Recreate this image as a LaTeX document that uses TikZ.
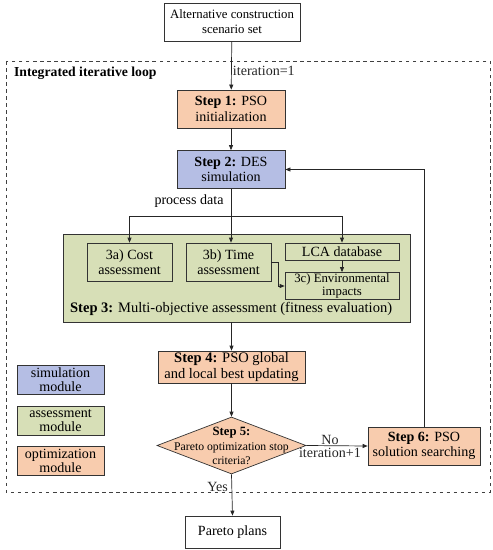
\documentclass[tikz,border=0pt]{standalone}
\usepackage{fontspec}
\setmainfont{Liberation Serif}
\usepackage{tikz}
\usetikzlibrary{positioning,arrows.meta,calc,shapes.geometric}

\definecolor{optor}{RGB}{248,204,174}
\definecolor{simbl}{RGB}{181,190,228}
\definecolor{assgr}{RGB}{215,223,183}

\begin{document}
\begin{tikzpicture}[
    x=0.3mm, y=-0.3mm,
    font=\fontsize{12}{13}\selectfont,
    stepbox/.style={draw, black!80, text=black, align=center, inner sep=1pt,
                    line width=0.6pt},
    legbox/.style={stepbox, minimum width=26.1mm, minimum height=8.7mm, inner sep=0pt,
                   font=\fontsize{12}{12}\selectfont},
    flow/.style={-{Triangle[length=1.5mm,width=1.2mm]}, black!85, line width=0.6pt},
  ]
  \useasboundingbox (0,0) rectangle (492,550);

  % ---------- integrated iterative loop (dashed frame) ----------
  \draw[dashed, black!75, line width=0.6pt] (6,61) rectangle (490,492);
  \node[anchor=west, font=\fontsize{11.7}{13}\selectfont\bfseries] (looplbl) at (10,73)
    {Integrated iterative loop};

  % ---------- input and steps 1, 2 ----------
  \node[stepbox, minimum width=40.8mm, minimum height=11.4mm,
        font=\fontsize{10.9}{12.6}\selectfont] (scen) at (232,22)
    {Alternative construction\\scenario set};
  \node[stepbox, fill=optor, minimum width=32.4mm, minimum height=11.4mm] (s1) at (231,109)
    {\textbf{Step 1:} PSO\\initialization};
  \node[stepbox, fill=simbl, minimum width=32.4mm, minimum height=11.4mm] (s2) at (231,169.5)
    {\textbf{Step 2:} DES\\simulation};

  % ---------- step 3: assessment panel ----------
  \node[stepbox, fill=assgr, minimum width=104.1mm, minimum height=26.4mm] (s3) at (236.5,278) {};
  \node[anchor=west, font=\fontsize{12.4}{13}\selectfont] (s3lbl) at (66,309)
    {\textbf{Step 3:} Multi-objective assessment (fitness evaluation)};
  \node[stepbox, fill=assgr, minimum width=25.5mm, minimum height=11.4mm] (c3a) at (129.5,262)
    {3a) Cost\\assessment};
  \node[stepbox, fill=assgr, minimum width=25.5mm, minimum height=11.4mm] (c3b) at (228.5,262)
    {3b) Time\\assessment};
  \node[stepbox, fill=assgr, minimum width=34.2mm, minimum height=5.1mm, inner sep=0pt] (lca) at (342,251.5)
    {LCA database};
  \node[stepbox, fill=assgr, minimum width=34.2mm, minimum height=8.1mm, inner sep=0pt,
        font=\fontsize{10.9}{11.6}\selectfont] (c3c) at (342,286)
    {3c) Environmental\\impacts};

  % ---------- steps 4, 5, 6 and output ----------
  \node[stepbox, fill=optor, minimum width=44.1mm, minimum height=9.6mm,
        font=\fontsize{12.4}{13}\selectfont] (s4) at (231.5,367)
    {\textbf{Step 4:} PSO global\\and local best updating};
  \node[diamond, draw, black!80, fill=optor, line width=0.6pt, inner sep=0pt,
        minimum width=44.7mm, minimum height=17.1mm] (d5) at (231.5,445.5) {};
  \node[align=center, font=\fontsize{10}{12.4}\selectfont] (d5txt) at (231.5,446)
    {\textbf{\fontsize{10.8}{12.4}\selectfont Step 5:}\\Pareto optimization stop\\criteria?};
  \node[stepbox, fill=optor, minimum width=33.6mm, minimum height=11.4mm] (s6) at (424,446)
    {\textbf{Step 6:} PSO\\solution searching};
  \node[stepbox, minimum width=28.5mm, minimum height=9.6mm] (pareto) at (232.5,532)
    {Pareto plans};

  % ---------- legend ----------
  \node[legbox, fill=simbl] (legsim) at (60.5,379.5) {simulation\\module};
  \node[legbox, fill=assgr] (legass) at (60.5,420.5) {assessment\\module};
  \node[legbox, fill=optor] (legopt) at (60.5,460.5) {optimization\\module};

  % ---------- connectors ----------
  \draw[flow] (scen) -- (s1)
    node[pos=0.62, anchor=west, inner sep=1pt] {iteration=1};
  \draw[flow] (s1) -- (s2);
  \coordinate (split) at (231,216);
  \draw[flow] (s2) -- (s2 |- c3b.north);
  \node[anchor=east, inner sep=1pt] (pdata) at (225,201) {process data};
  \draw[flow] (split) -| (c3a.north);
  \draw[flow] (split) -| (lca.north);
  \draw[flow] (lca) -- (c3c);
  \draw[flow] (c3b.east) -- ++(7,0) |- (c3c.west);
  \draw[flow] (s4.north |- s3.south) -- (s4);
  \draw[flow] (s4) -- (d5);
  \draw[flow] (d5.east) -- (s6.west)
    node[midway, above, inner sep=0pt, yshift=0.5pt, xshift=-6pt] {No}
    node[midway, below, inner sep=0pt, yshift=-2pt, xshift=-6pt] {iteration+1};
  \draw[flow] (s6.north) |- (s2.east);
  \draw[flow] (d5.south) -- (pareto.north)
    node[pos=0.3, anchor=east, inner sep=3pt] {Yes};

\end{tikzpicture}
\end{document}
